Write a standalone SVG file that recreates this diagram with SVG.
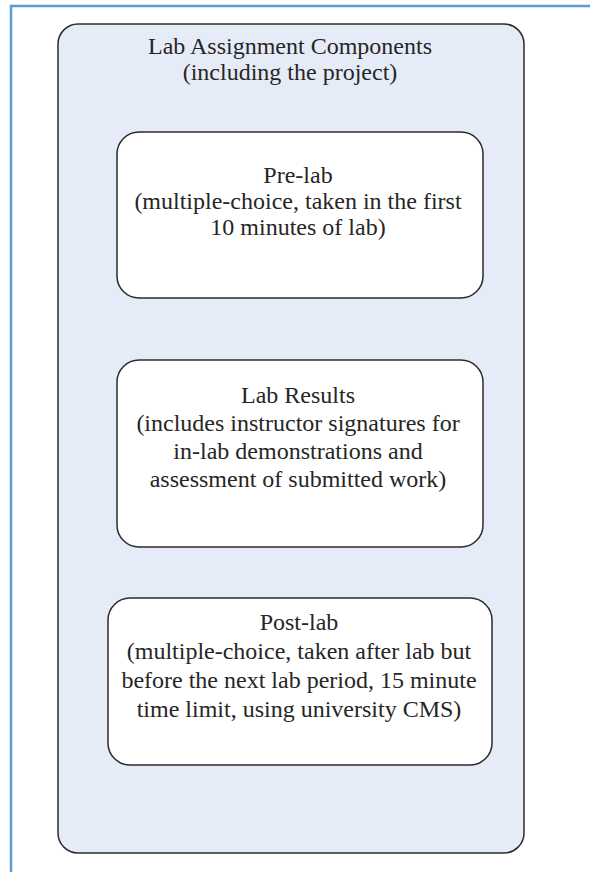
<svg xmlns="http://www.w3.org/2000/svg" width="590" height="872" viewBox="0 0 590 872">
<style>
.t{font-family:"Liberation Serif","Times New Roman",serif;font-size:24px;fill:#262626;text-anchor:middle}
.box{fill:#ffffff;stroke:#2b2b2b;stroke-width:1.5}
</style>
<rect width="590" height="872" fill="#ffffff"/>
<path d="M11 872 V6 H590" fill="none" stroke="#5b9bd5" stroke-width="2.5"/>
<g id="container">
<rect x="58" y="24" width="466" height="829" rx="20" fill="#e6ecf7" stroke="#2b2b2b" stroke-width="1.5"/>
<text class="t" x="290" y="54">Lab Assignment Components</text>
<text class="t" x="290" y="80">(including the project)</text>
</g>
<g id="prelab">
<rect class="box" x="117" y="132" width="366" height="166" rx="22"/>
<text class="t" x="298" y="183">Pre-lab</text>
<text class="t" x="298" y="209">(multiple-choice, taken in the first</text>
<text class="t" x="298" y="235">10 minutes of lab)</text>
</g>
<g id="labresults">
<rect class="box" x="117" y="360" width="366" height="187" rx="22"/>
<text class="t" x="298" y="403">Lab Results</text>
<text class="t" x="298" y="431">(includes instructor signatures for</text>
<text class="t" x="298" y="459">in-lab demonstrations and</text>
<text class="t" x="298" y="487">assessment of submitted work)</text>
</g>
<g id="postlab">
<rect class="box" x="108" y="598" width="384" height="167" rx="22"/>
<text class="t" x="299" y="630">Post-lab</text>
<text class="t" x="299" y="659">(multiple-choice, taken after lab but</text>
<text class="t" x="299" y="688">before the next lab period, 15 minute</text>
<text class="t" x="299" y="717">time limit, using university CMS)</text>
</g>
<g id="connectors"></g>
</svg>
